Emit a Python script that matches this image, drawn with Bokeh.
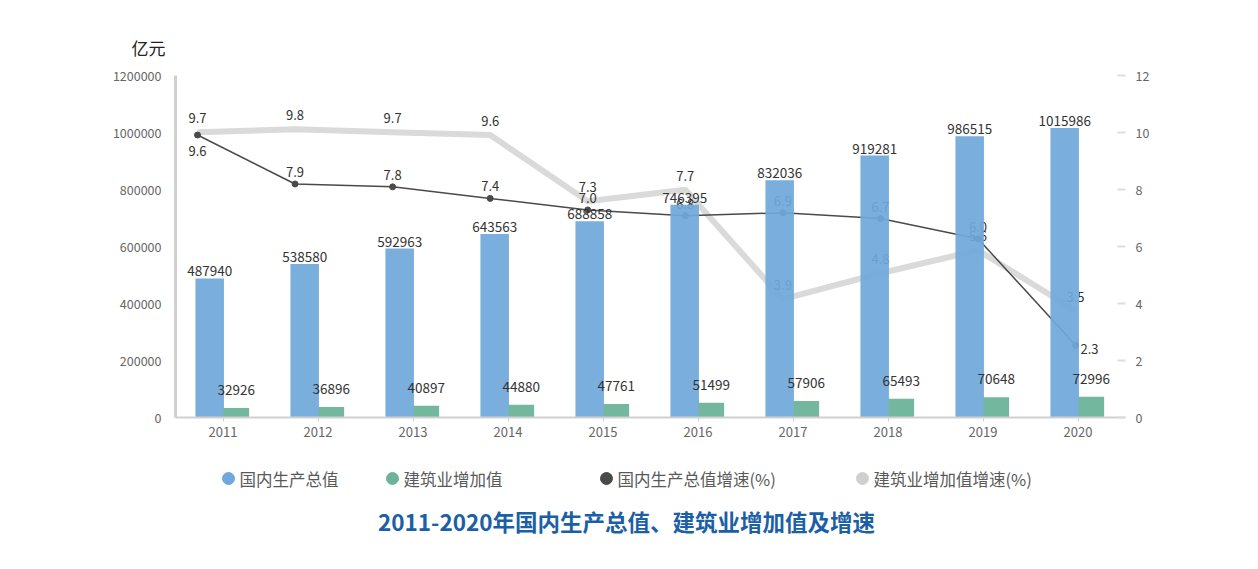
import numpy as np
from bokeh.plotting import figure
from bokeh.layouts import column
from bokeh.models import (Range1d, LinearAxis, FixedTicker, BasicTickFormatter,
                          ColumnDataSource, LabelSet)
from bokeh.core.properties import value
from bokeh.embed import file_html
from bokeh.resources import INLINE

years = ["2011", "2012", "2013", "2014", "2015", "2016", "2017", "2018", "2019", "2020"]
gdp = [487940, 538580, 592963, 643563, 688858, 746395, 832036, 919281, 986515, 1015986]
construction = [32926, 36896, 40897, 44880, 47761, 51499, 57906, 65493, 70648, 72996]
gdp_growth = [9.6, 7.9, 7.8, 7.4, 7.0, 6.8, 6.9, 6.7, 6.0, 2.3]
con_growth = [9.7, 9.8, 9.7, 9.6, 7.3, 7.7, 3.9, 4.8, 5.6, 3.5]

left_ticks = [0, 200000, 400000, 600000, 800000, 1000000, 1200000]
right_ticks = [0, 2, 4, 6, 8, 10, 12]

legend_names = ["国内生产总值", "建筑业增加值", "国内生产总值增速(%)", "建筑业增加值增速(%)"]
legend_colors = ["#6fa8da", "#6db39a", "#4a4a4a", "#d0d0d0"]
title_text = "2011-2020年国内生产总值、建筑业增加值及增速"
unit_text = "亿元"

FONT = "Noto Sans CJK SC"
idx = np.arange(len(years))

p = figure(width=1258, height=460, output_backend="svg", toolbar_location=None,
           x_range=Range1d(-0.5, len(years) - 0.5), y_range=Range1d(0, 1200000),
           min_border_left=175, min_border_right=133, min_border_top=75, min_border_bottom=43)
p.outline_line_color = None
p.xgrid.visible = False
p.ygrid.visible = False
p.background_fill_color = "white"
p.border_fill_color = "white"

p.title.text = unit_text
p.title.align = "left"
p.title.offset = -44
p.title.text_font = FONT
p.title.text_font_size = "17px"
p.title.text_font_style = "normal"
p.title.text_color = "#222222"
p.title.standoff = 32

p.extra_y_ranges = {"pct": Range1d(0, 12), "lp": Range1d(-0.208, 11.667)}
p.extra_x_ranges = {"lx": Range1d(-0.2255, 9.512)}

# axes
p.xaxis.ticker = FixedTicker(ticks=list(idx))
p.xaxis.major_label_overrides = {int(i): y for i, y in zip(idx, years)}
p.xaxis.axis_line_color = "#d0d0d0"
p.xaxis.axis_line_width = 2
p.xaxis.major_tick_line_color = "#d0d0d0"
p.xaxis.major_tick_out = 4
p.xaxis.major_tick_in = 0
p.xaxis.minor_tick_line_color = None
p.xaxis.major_label_text_color = "#666666"
p.xaxis.major_label_text_font_size = "13px"
p.xaxis.major_label_text_font = FONT
p.xaxis.major_label_standoff = 5

p.yaxis.ticker = FixedTicker(ticks=left_ticks)
p.yaxis.formatter = BasicTickFormatter(use_scientific=False)
p.yaxis.axis_line_color = "#d0d0d0"
p.yaxis.axis_line_width = 3
p.yaxis.major_tick_line_color = None
p.yaxis.minor_tick_line_color = None
p.yaxis.major_label_text_color = "#666666"
p.yaxis.major_label_text_font_size = "12.5px"
p.yaxis.major_label_text_font = FONT
p.yaxis.major_label_standoff = 8

ax2 = LinearAxis(y_range_name="pct", ticker=FixedTicker(ticks=right_ticks))
ax2.axis_line_color = None
ax2.major_tick_line_color = "#dddddd"
ax2.major_tick_line_width = 2
ax2.major_tick_in = 8
ax2.major_tick_out = 0
ax2.minor_tick_line_color = None
ax2.major_label_text_color = "#666666"
ax2.major_label_text_font_size = "12.5px"
ax2.major_label_text_font = FONT
ax2.major_label_text_baseline = "top"
ax2.major_label_standoff = 10
p.add_layout(ax2, "right")

n = len(years)
gg_xoff = [0] * n
gg_yoff = [-12] * n
gg_xoff[0], gg_yoff[0] = 0, 16
gg_xoff[-1], gg_yoff[-1] = 14, 4

src = ColumnDataSource(dict(
    x=idx, xg=idx - 0.14, xc=idx + 0.14,
    gdp=gdp, con=construction, gg=gdp_growth, cg=con_growth,
    gdp_lbl=[str(v) for v in gdp], con_lbl=[str(v) for v in construction],
    gg_lbl=[f"{v:.1f}" for v in gdp_growth], cg_lbl=[f"{v:.1f}" for v in con_growth],
    gg_xoff=gg_xoff, gg_yoff=gg_yoff,
))

# lines (behind bars)
p.line("x", "cg", source=src, x_range_name="lx", y_range_name="lp",
       line_color="#dadada", line_width=6)
p.line("x", "gg", source=src, x_range_name="lx", y_range_name="lp",
       line_color="#4a4a4a", line_width=1.5)
p.scatter("x", "gg", source=src, x_range_name="lx", y_range_name="lp",
          size=6, fill_color="#4a4a4a", line_color="#4a4a4a")

txt_style = dict(text_font_size=value("13px"), text_color="#333333",
                 text_font=value(FONT), text_align="center", text_baseline="middle")
p.text(x="x", y="cg", text="cg_lbl", source=src, x_range_name="lx", y_range_name="lp",
       y_offset=-14, **txt_style)
p.text(x="x", y="gg", text="gg_lbl", source=src, x_range_name="lx", y_range_name="lp",
       x_offset="gg_xoff", y_offset="gg_yoff", **txt_style)

# bars
p.vbar(x="xg", top="gdp", width=0.30, source=src, fill_color="#6fa8da", line_color=None, fill_alpha=0.93)
p.vbar(x="xc", top="con", width=0.27, source=src, fill_color="#6db39a", line_color=None, fill_alpha=0.95)

lbl_style = dict(text_font_size="13.5px", text_color="#333333", text_font=value(FONT), text_align="center")
p.add_layout(LabelSet(x="xg", y="gdp", text="gdp_lbl", source=src, y_offset=2,
                      text_baseline="bottom", **lbl_style))
p.add_layout(LabelSet(x="xc", y="con", text="con_lbl", source=src, y_offset=13,
                      text_baseline="bottom", **lbl_style))

# ---- bottom strip: legend and title (helper figure, frame aligned with main frame 175..1125 px) ----
q = figure(width=1258, height=109, output_backend="svg", toolbar_location=None,
           x_range=Range1d(175, 1125), y_range=Range1d(0, 109),
           min_border=0, min_border_left=0, min_border_right=0, min_border_top=0, min_border_bottom=0)
q.axis.visible = False
q.grid.visible = False
q.outline_line_color = None
q.background_fill_color = "white"
q.border_fill_color = "white"

leg_x = [228, 392, 606, 862]
leg_src = ColumnDataSource(dict(x=leg_x, y=[91] * 4, tx=[v + 11 for v in leg_x],
                                name=legend_names, color=legend_colors))
q.scatter("x", "y", source=leg_src, size=12, fill_color="color", line_color="color")
q.text(x="tx", y="y", text="name", source=leg_src, text_font=value(FONT),
       text_font_size=value("16.5px"), text_color="#595959", text_baseline="middle")
q.text(x=[626], y=[49], text=[title_text], text_font=value(FONT),
       text_font_size=value("22.5px"), text_font_style="bold", text_color="#1b5fa6",
       text_align="center", text_baseline="middle")

open("out.html", "w").write(file_html(column(p, q, spacing=0), INLINE))
